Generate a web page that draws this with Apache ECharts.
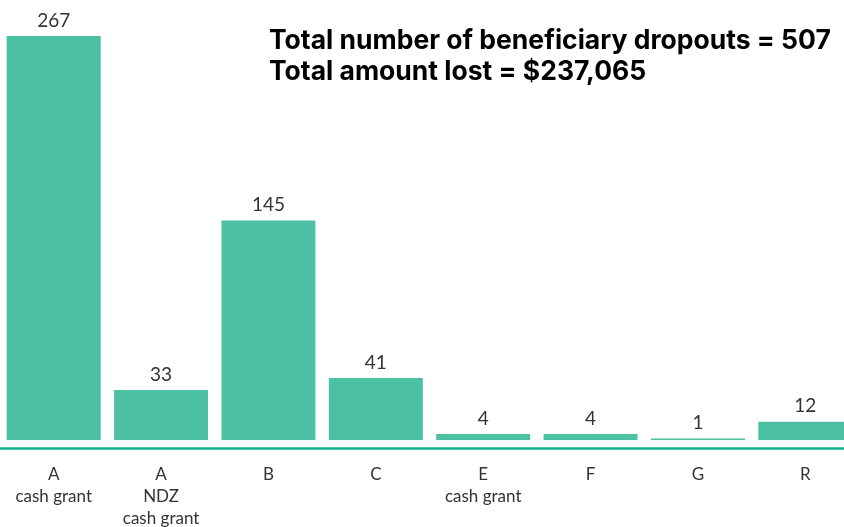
<!DOCTYPE html>
<html><head><meta charset="utf-8">
<script src="https://cdn.jsdelivr.net/npm/echarts@6/dist/echarts.min.js"></script>
<style>html,body{margin:0;padding:0;background:#fff}#c{width:844px;height:527px}</style>
</head><body><div id="c"></div>
<script>
const categories = ["A\ncash grant", "A\nNDZ\ncash grant", "B", "C", "E\ncash grant", "F", "G", "R"];
const dropouts = [267, 33, 145, 41, 4, 4, 1, 12];
const titleLines = ["Total number of beneficiary dropouts = 507", "Total amount lost = $237,065"];

const chart = echarts.init(document.getElementById('c'));
chart.setOption({
  animation: false,
  title: {
    text: titleLines.join('\n'),
    left: 264, top: 21,
    textStyle: { fontFamily: 'Inter', fontWeight: 'bold', fontSize: 26.5, color: '#000', lineHeight: 31 }
  },
  grid: { left: 0, width: 859, top: 36, bottom: 87, containLabel: false, outerBoundsMode: 'none' },
  xAxis: {
    type: 'category', data: categories, offset: 8,
    axisLine: { onZero: false, lineStyle: { color: '#14AF8C', width: 2.5 } },
    axisTick: { show: false },
    axisLabel: { color: '#333', fontFamily: 'Lato', fontSize: 17, lineHeight: 22, margin: 16 }
  },
  yAxis: { type: 'value', min: 0, max: 267, show: false, splitLine: { show: false } },
  series: [{
    type: 'bar', data: dropouts, barCategoryGap: '12.5%',
    itemStyle: { color: '#4BC0A2' },
    label: { show: true, position: 'top', color: '#333', fontFamily: 'Lato', fontSize: 19, distance: 6 }
  }]
});
</script></body></html>
